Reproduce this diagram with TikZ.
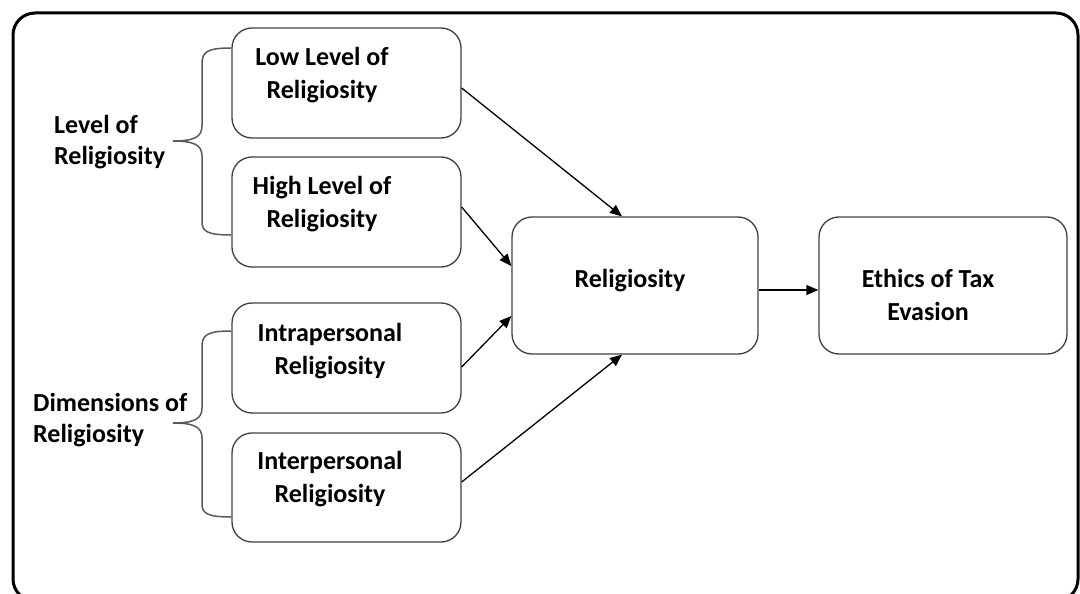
\documentclass[tikz,border=0pt]{standalone}
\usepackage{fontspec}
\setmainfont{Carlito}
\usetikzlibrary{arrows.meta}
\begin{document}
\begin{tikzpicture}[x=1pt,y=-1pt,
  box/.style={draw=black!75, line width=1.3pt, rounded corners=20pt, inner sep=0pt},
  txt/.style={font=\fontsize{26}{33}\selectfont\bfseries, align=center, inner sep=0pt},
  lbl/.style={font=\fontsize{26}{31}\selectfont\bfseries, align=left, inner sep=0pt, anchor=west},
  arr/.style={line width=1.3pt, -{Triangle[length=12pt,width=10pt]}},
  brace/.style={draw=black!65, line width=1.5pt}
]
\useasboundingbox (0,0) rectangle (1080,594);
\begin{scope}
\clip (0,0) rectangle (1080,594);
\draw[line width=3pt, rounded corners=22pt] (13,13) rectangle (1078,601);
\end{scope}

\node[box, minimum width=229pt, minimum height=110pt] (lowbox) at (346.5,83) {};
\node[box, minimum width=229pt, minimum height=110pt] (highbox) at (346.5,212) {};
\node[box, minimum width=229pt, minimum height=110pt] (intrabox) at (346.5,358) {};
\node[box, minimum width=229pt, minimum height=109pt] (interbox) at (346.5,487.5) {};
\node[box, minimum width=246pt, minimum height=137pt] (relig) at (635,285.5) {};
\node[box, minimum width=248pt, minimum height=137pt] (ethics) at (943,285.5) {};

\node[txt] (lowtxt) at (322,75) {Low Level of\\Religiosity};
\node[txt] (hightxt) at (322,204) {High Level of\\Religiosity};
\node[txt] (intratxt) at (330,351) {Intrapersonal\\Religiosity};
\node[txt] (intertxt) at (330,479) {Interpersonal\\Religiosity};
\node[txt] (religtxt) at (630,281) {Religiosity};
\node[txt] (ethicstxt) at (928,295) {Ethics of Tax\\Evasion};

\node[lbl] (levellbl) at (54,142) {Level of\\Religiosity};
\node[lbl] (dimlbl) at (33,420) {Dimensions of\\Religiosity};

\path[brace] (231,48) .. controls (207,48) and (202,52) .. (202,64) -- (202,126)
  .. controls (202,137) and (194,141) .. (173,141)
  .. controls (194,141) and (202,145) .. (202,156) -- (202,222)
  .. controls (202,231) and (207,235) .. (231,235);
\path[brace] (231,331) .. controls (207,331) and (202,335) .. (202,347) -- (202,408)
  .. controls (202,419) and (194,423) .. (173,423)
  .. controls (194,423) and (202,427) .. (202,438) -- (202,504)
  .. controls (202,513) and (207,517) .. (231,517);

\draw[arr] ([yshift=-5pt]lowbox.east) -- ([xshift=-13pt]relig.north);
\draw[arr] ([yshift=5pt]highbox.east) -- ([yshift=19.5pt]relig.west);
\draw[arr] ([yshift=-9pt]intrabox.east) -- ([yshift=-30.5pt]relig.west);
\draw[arr] ([yshift=5.5pt]interbox.east) -- ([xshift=-13pt]relig.south);
\draw[arr] ([yshift=-4.5pt]relig.east) -- ([yshift=-4.5pt]ethics.west);
\end{tikzpicture}
\end{document}
